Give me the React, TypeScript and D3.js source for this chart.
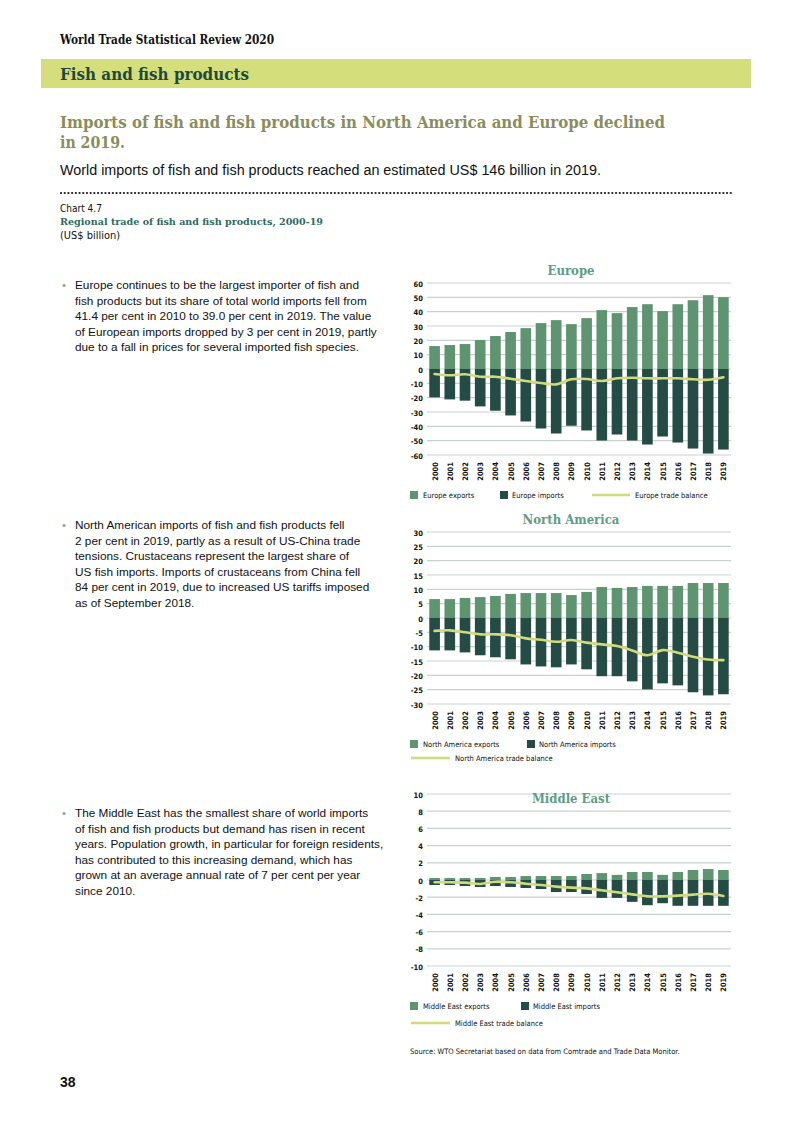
import React from 'react';
import * as d3 from 'd3';

const years = ["2000","2001","2002","2003","2004","2005","2006","2007","2008","2009","2010","2011","2012","2013","2014","2015","2016","2017","2018","2019"];

const europeExports = [16.0,16.7,17.4,20.2,23.0,25.8,28.5,32.0,34.1,31.3,35.5,41.1,39.0,43.2,45.2,40.4,45.2,48.0,51.5,50.1];
const europeImports = [-19.8,-21.2,-22.1,-26.1,-29.1,-32.4,-36.6,-41.5,-45.0,-39.6,-42.9,-49.9,-45.7,-49.9,-52.7,-47.1,-51.3,-55.5,-59.0,-56.2];
const europeBalance = [-3.5,-4.4,-3.7,-5.4,-5.4,-6.8,-8.4,-9.8,-10.7,-7.2,-7.0,-8.4,-6.5,-6.1,-6.5,-6.5,-6.5,-7.2,-7.5,-5.8];
const europeTicks = [60,50,40,30,20,10,0,-10,-20,-30,-40,-50,-60];

const naExports = [6.6,6.6,7.0,7.3,7.7,8.4,8.7,8.7,8.7,8.0,9.1,10.8,10.5,10.8,11.2,11.2,11.2,12.2,12.2,12.2];
const naImports = [-11.3,-11.3,-12.0,-13.0,-13.7,-14.4,-16.2,-16.9,-17.2,-16.2,-17.9,-20.3,-20.3,-22.1,-24.9,-22.8,-23.5,-25.9,-27.0,-26.6];
const naBalance = [-4.5,-4.3,-5.0,-5.7,-5.7,-6.0,-7.1,-7.6,-8.3,-7.7,-8.6,-9.2,-9.8,-11.3,-13.0,-11.2,-12.1,-13.5,-14.5,-14.7];
const naTicks = [30,25,20,15,10,5,0,-5,-10,-15,-20,-25,-30];

const meExports = [0.23,0.23,0.23,0.23,0.35,0.35,0.46,0.46,0.46,0.46,0.7,0.8,0.6,0.93,0.93,0.6,0.93,1.16,1.28,1.16];
const meImports = [-0.58,-0.58,-0.7,-0.81,-0.7,-0.81,-0.93,-1.05,-1.4,-1.4,-1.63,-2.08,-2.08,-2.54,-2.93,-2.7,-3.0,-3.0,-3.0,-3.0];
const meBalance = [-0.27,-0.27,-0.3,-0.46,-0.2,-0.27,-0.43,-0.58,-0.77,-0.89,-0.97,-1.2,-1.43,-1.67,-1.9,-1.9,-1.82,-1.7,-1.6,-1.86];
const meTicks = [10,8,6,4,2,0,-2,-4,-6,-8,-10];

const C_EXP = '#5f9470';
const C_IMP = '#244c44';
const C_BAL = '#cfdb7c';
const C_GRID = '#c9d1cd';
const C_TITLE = '#5e9c84';

const SERIF = '"DejaVu Serif Condensed", "DejaVu Serif", serif';
const SANS = '"Liberation Sans", Arial, sans-serif';
const NARROW = '"DejaVu Sans Condensed", "Liberation Sans", sans-serif';

type LegendPos = { expX: number; impX: number; row1: number; balX: number; balRow: number; balW: number };

function RegionChart(props: {
  name: string;
  top: number; bottom: number; maxV: number;
  ticks: number[];
  exportsV: number[]; importsV: number[]; balanceV: number[];
  titleY: number;
  legend: LegendPos;
}) {
  const { name, top, bottom, maxV, ticks, exportsV, importsV, balanceV, titleY, legend } = props;
  const x = d3.scaleBand<string>().domain(years).range([427, 731]).paddingInner(0.3).paddingOuter(0.15);
  const y = d3.scaleLinear().domain([-maxV, maxV]).range([bottom, top]);
  const line = d3.line<number>()
    .x((_, i) => (x(years[i]) as number) + x.bandwidth() / 2)
    .y((d) => y(d))
    .curve(d3.curveCatmullRom.alpha(0.5));
  return (
    <g>
      {ticks.map((t) => (
        <g key={t}>
          <line x1={427} x2={731} y1={y(t)} y2={y(t)} stroke={C_GRID} strokeWidth={1.2} />
          <text x={423} y={y(t) + 3.5} textAnchor="end" fontFamily={NARROW} fontWeight="bold" fontSize={7.5} fill="#111">{t}</text>
        </g>
      ))}
      <text x={571} y={titleY} textAnchor="middle" fontFamily={SERIF} fontWeight="bold" fontSize={13} fill={C_TITLE}>{name}</text>
      {exportsV.map((v, i) => (
        <rect key={'e' + i} x={x(years[i])} width={x.bandwidth()} y={y(v)} height={y(0) - y(v)} fill={C_EXP} />
      ))}
      {importsV.map((v, i) => (
        <rect key={'i' + i} x={x(years[i])} width={x.bandwidth()} y={y(0)} height={y(v) - y(0)} fill={C_IMP} />
      ))}
      <path d={line(balanceV) || ''} fill="none" stroke={C_BAL} strokeWidth={2.6} strokeLinecap="round" />
      {years.map((yr) => {
        const cx = (x(yr) as number) + x.bandwidth() / 2;
        return (
          <text key={yr} transform={`translate(${cx + 3},${bottom + 7}) rotate(-90)`} textAnchor="end"
            fontFamily={NARROW} fontWeight="bold" fontSize={7.5} fill="#111">{yr}</text>
        );
      })}
      <rect x={legend.expX} y={legend.row1 - 4} width={8} height={8} fill={C_EXP} />
      <text x={legend.expX + 13} y={legend.row1 + 3} fontFamily={NARROW} fontSize={7.5} fill="#111">{name} exports</text>
      <rect x={legend.impX} y={legend.row1 - 4} width={8} height={8} fill={C_IMP} />
      <text x={legend.impX + 12} y={legend.row1 + 3} fontFamily={NARROW} fontSize={7.5} fill="#111">{name} imports</text>
      <line x1={legend.balX} x2={legend.balX + legend.balW} y1={legend.balRow} y2={legend.balRow} stroke={C_BAL} strokeWidth={2.6} />
      <text x={legend.balX + legend.balW + 5} y={legend.balRow + 3} fontFamily={NARROW} fontSize={7.5} fill="#111">{name} trade balance</text>
    </g>
  );
}

function Bullet(props: { x: number; y: number; lines: string[] }) {
  return (
    <g>
      <text x={props.x - 13} y={props.y} fontFamily={SANS} fontSize={11.5} fill="#9aa07a">•</text>
      {props.lines.map((l, i) => (
        <text key={i} x={props.x} y={props.y + i * 15.6} fontFamily={SANS} fontSize={11.8} fill="#111">{l}</text>
      ))}
    </g>
  );
}

export default function App() {
  return (
    <svg width={793} height={1122} style={{ position: 'absolute', left: 0, top: 0, background: '#fff' }}>
      <rect x={0} y={0} width={793} height={1122} fill="#fff" />
      <text x={60} y={43.5} fontFamily={SERIF} fontWeight="bold" fontSize={12} fill="#111" textLength={214} lengthAdjust="spacingAndGlyphs">World Trade Statistical Review 2020</text>
      <rect x={41} y={59} width={710} height={29} fill="#d4df7c" />
      <text x={60} y={80} fontFamily={SERIF} fontWeight="bold" fontSize={17} fill="#1f4a3b" textLength={189} lengthAdjust="spacingAndGlyphs">Fish and fish products</text>
      <text x={60} y={128} fontFamily={SERIF} fontWeight="bold" fontSize={17.5} fill="#8a8d5b" textLength={605} lengthAdjust="spacingAndGlyphs">Imports of fish and fish products in North America and Europe declined</text>
      <text x={60} y={148} fontFamily={SERIF} fontWeight="bold" fontSize={17.5} fill="#8a8d5b" textLength={65} lengthAdjust="spacingAndGlyphs">in 2019.</text>
      <text x={60} y={175} fontFamily={SANS} fontSize={14} fill="#111" textLength={541} lengthAdjust="spacingAndGlyphs">World imports of fish and fish products reached an estimated US$ 146 billion in 2019.</text>
      <line x1={61} x2={733} y1={193} y2={193} stroke="#222" strokeWidth={2.2} strokeDasharray="0.1 3.6" strokeLinecap="round" />
      <text x={60} y={212} fontFamily={NARROW} fontSize={10} fill="#111">Chart 4.7</text>
      <text x={60} y={225} fontFamily={SERIF} fontWeight="bold" fontSize={10} fill="#2f6a5e" textLength={263} lengthAdjust="spacingAndGlyphs">Regional trade of fish and fish products, 2000-19</text>
      <text x={60} y={239} fontFamily={NARROW} fontSize={10} fill="#111" textLength={60} lengthAdjust="spacingAndGlyphs">(US$ billion)</text>

      <Bullet x={75} y={289} lines={[
        'Europe continues to be the largest importer of fish and',
        'fish products but its share of total world imports fell from',
        '41.4 per cent in 2010 to 39.0 per cent in 2019. The value',
        'of European imports dropped by 3 per cent in 2019, partly',
        'due to a fall in prices for several imported fish species.',
      ]} />
      <Bullet x={75} y={529} lines={[
        'North American imports of fish and fish products fell',
        '2 per cent in 2019, partly as a result of US-China trade',
        'tensions. Crustaceans represent the largest share of',
        'US fish imports. Imports of crustaceans from China fell',
        '84 per cent in 2019, due to increased US tariffs imposed',
        'as of September 2018.',
      ]} />
      <Bullet x={75} y={817} lines={[
        'The Middle East has the smallest share of world imports',
        'of fish and fish products but demand has risen in recent',
        'years. Population growth, in particular for foreign residents,',
        'has contributed to this increasing demand, which has',
        'grown at an average annual rate of 7 per cent per year',
        'since 2010.',
      ]} />

      <RegionChart name="Europe" top={283} bottom={455} maxV={60} ticks={europeTicks}
        exportsV={europeExports} importsV={europeImports} balanceV={europeBalance} titleY={275}
        legend={{ expX: 410, impX: 500, row1: 495, balX: 592, balRow: 495, balW: 38 }} />
      <RegionChart name="North America" top={532} bottom={704} maxV={30} ticks={naTicks}
        exportsV={naExports} importsV={naImports} balanceV={naBalance} titleY={524}
        legend={{ expX: 410, impX: 527, row1: 744, balX: 411, balRow: 758, balW: 39 }} />
      <RegionChart name="Middle East" top={794} bottom={966} maxV={10} ticks={meTicks}
        exportsV={meExports} importsV={meImports} balanceV={meBalance} titleY={803}
        legend={{ expX: 410, impX: 521, row1: 1006, balX: 411, balRow: 1023, balW: 39 }} />

      <text x={410} y={1054} fontFamily={NARROW} fontSize={7.5} fill="#111">Source: WTO Secretariat based on data from Comtrade and Trade Data Monitor.</text>
      <text x={60} y={1087} fontFamily={SANS} fontWeight="bold" fontSize={14} fill="#111">38</text>
    </svg>
  );
}
